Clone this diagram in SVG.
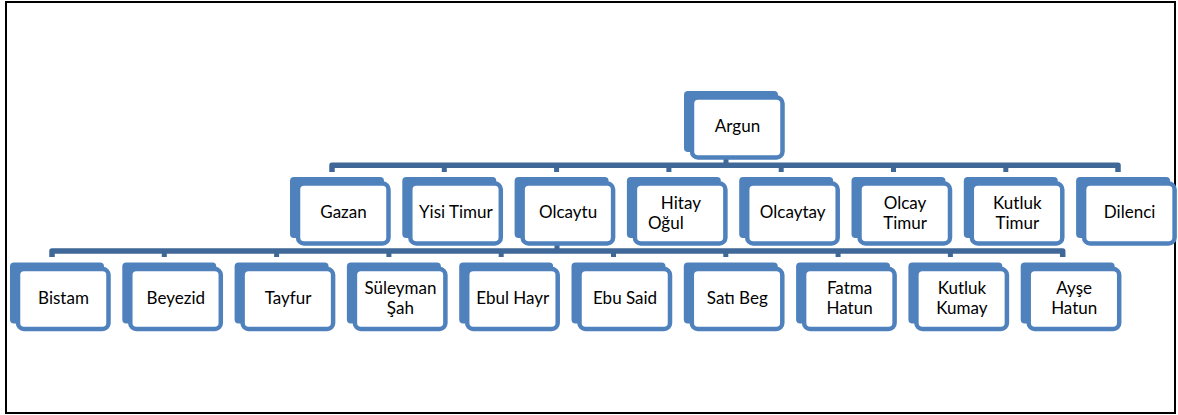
<svg xmlns="http://www.w3.org/2000/svg" width="1178" height="415" viewBox="0 0 1178 415">
<style>
.back{fill:#4F81BD}
.frame{fill:#FFFFFF;stroke:#4F81BD;stroke-width:4.5}
.bar{fill:none;stroke:#3F6898;stroke-width:5.5;stroke-linejoin:round}
.stem{fill:none;stroke:#3F6898;stroke-width:5}
text{font-family:Lato,"Open Sans","Liberation Sans",sans-serif;font-size:17px;fill:#000;text-anchor:middle}
</style>
<defs>
<g id="shape">
<rect class="back" x="0" y="0" width="94" height="61" rx="4"/>
<rect class="frame" x="8" y="6.5" width="90.5" height="60" rx="6"/>
</g>
</defs>
<rect x="6" y="2" width="1169" height="411" fill="#FFFFFF" stroke="#000" stroke-width="2"/>
<g id="connectors">
<path class="stem" d="M726,157 V165"/>
<path class="bar" d="M332,172 V165.3 H1118 V172"/>
<path class="stem" d="M444.3,165 V172 M556.6,165 V172 M668.9,165 V172 M781.2,165 V172 M893.5,165 V172 M1005.8,165 V172"/>
<path class="stem" d="M557,244 V251"/>
<path class="bar" d="M52,257 V251 H1062.7 V257"/>
<path class="stem" d="M164.3,251 V257 M276.6,251 V257 M388.9,251 V257 M501.2,251 V257 M613.5,251 V257 M725.8,251 V257 M838.1,251 V257 M950.4,251 V257"/>
</g>
<g id="n-argun" transform="translate(684,91)"><use href="#shape"/><text x="53.5" y="41">Argun</text></g>
<g id="n-gazan" transform="translate(290,177)"><use href="#shape"/><text x="53.5" y="41">Gazan</text></g>
<g id="n-yisi" transform="translate(402.3,177)"><use href="#shape"/><text x="53.5" y="41">Yisi Timur</text></g>
<g id="n-olcaytu" transform="translate(514.6,177)"><use href="#shape"/><text x="53.5" y="41">Olcaytu</text></g>
<g id="n-hitay" transform="translate(626.9,177)"><use href="#shape"/><text x="54" y="32">Hitay</text><text x="21" y="51.5" style="text-anchor:start">Oğul</text></g>
<g id="n-olcaytay" transform="translate(739.2,177)"><use href="#shape"/><text x="53.5" y="41">Olcaytay</text></g>
<g id="n-olcaytimur" transform="translate(851.5,177)"><use href="#shape"/><text x="53.5" y="32">Olcay</text><text x="53.5" y="51.5">Timur</text></g>
<g id="n-kutluktimur" transform="translate(963.8,177)"><use href="#shape"/><text x="53.5" y="32">Kutluk</text><text x="53.5" y="51.5">Timur</text></g>
<g id="n-dilenci" transform="translate(1076.1,177)"><use href="#shape"/><text x="53.5" y="41">Dilenci</text></g>
<g id="n-bistam" transform="translate(10,262.5)"><use href="#shape"/><text x="53.5" y="41">Bistam</text></g>
<g id="n-beyezid" transform="translate(122.3,262.5)"><use href="#shape"/><text x="53.5" y="41">Beyezid</text></g>
<g id="n-tayfur" transform="translate(234.6,262.5)"><use href="#shape"/><text x="53.5" y="41">Tayfur</text></g>
<g id="n-suleyman" transform="translate(346.9,262.5)"><use href="#shape"/><text x="53.5" y="31.5">Süleyman</text><text x="53.5" y="51">Şah</text></g>
<g id="n-ebulhayr" transform="translate(459.2,262.5)"><use href="#shape"/><text x="53.5" y="41">Ebul Hayr</text></g>
<g id="n-ebusaid" transform="translate(571.5,262.5)"><use href="#shape"/><text x="53.5" y="41">Ebu Said</text></g>
<g id="n-satibeg" transform="translate(683.8,262.5)"><use href="#shape"/><text x="53.5" y="41">Satı Beg</text></g>
<g id="n-fatma" transform="translate(796.1,262.5)"><use href="#shape"/><text x="53.5" y="31.5">Fatma</text><text x="53.5" y="51">Hatun</text></g>
<g id="n-kutlukkumay" transform="translate(908.4,262.5)"><use href="#shape"/><text x="53.5" y="31.5">Kutluk</text><text x="53.5" y="51">Kumay</text></g>
<g id="n-ayse" transform="translate(1020.7,262.5)"><use href="#shape"/><text x="53.5" y="31.5">Ayşe</text><text x="53.5" y="51">Hatun</text></g>
</svg>
